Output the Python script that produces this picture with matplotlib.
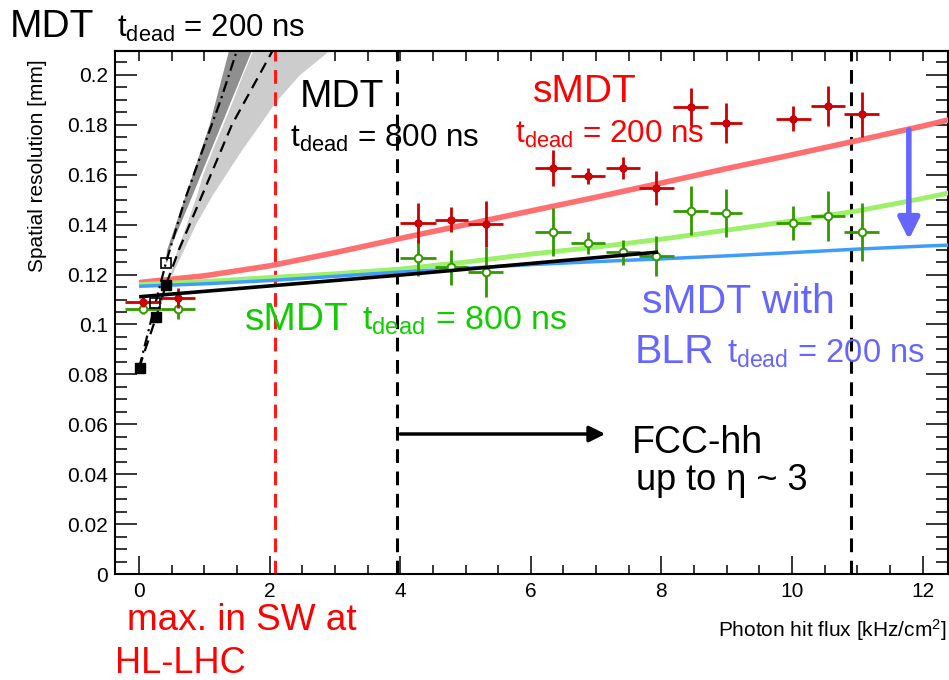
import matplotlib
matplotlib.use("Agg")
import matplotlib.pyplot as plt
from matplotlib.ticker import MultipleLocator, FuncFormatter

plt.rcParams['font.family'] = ['Liberation Sans', 'DejaVu Sans']
plt.rcParams['mathtext.fontset'] = 'custom'
plt.rcParams['mathtext.rm'] = 'Liberation Sans'
plt.rcParams['mathtext.it'] = 'Liberation Sans'

# ---------------- data ----------------
# sMDT, t_dead = 200 ns (red, filled circles)
red_x = [0.06, 0.60, 4.27, 4.78, 5.31, 6.34, 6.88, 7.41, 7.92, 8.45, 8.99, 10.02, 10.55, 11.07]
red_y = [0.1090, 0.1106, 0.1407, 0.1419, 0.1403, 0.1627, 0.1595, 0.1627, 0.1547, 0.1872, 0.1808, 0.1824, 0.1876, 0.1843]
red_yerr = [0.002, 0.004, 0.0080, 0.0050, 0.0093, 0.0073, 0.0033, 0.0043, 0.0070, 0.0077, 0.0079, 0.0050, 0.0080, 0.0090]
red_xerr = [0.27, 0.26, 0.27, 0.25, 0.27, 0.27, 0.26, 0.26, 0.27, 0.27, 0.25, 0.27, 0.26, 0.27]

# sMDT, t_dead = 800 ns (green, open circles)
grn_x = [0.06, 0.60, 4.27, 4.78, 5.31, 6.34, 6.88, 7.41, 7.92, 8.45, 8.99, 10.02, 10.55, 11.07]
grn_y = [0.1062, 0.1062, 0.1267, 0.1230, 0.1210, 0.1370, 0.1327, 0.1290, 0.1275, 0.1455, 0.1447, 0.1407, 0.1435, 0.1370]
grn_yerr = [0.002, 0.004, 0.0073, 0.0070, 0.0100, 0.0097, 0.0045, 0.0050, 0.0080, 0.0098, 0.0097, 0.0067, 0.0100, 0.0115]
grn_xerr = [0.27, 0.26, 0.27, 0.25, 0.27, 0.27, 0.26, 0.26, 0.27, 0.27, 0.25, 0.27, 0.26, 0.27]

# MDT measurements (black squares)
mdt_full_x = [0.02, 0.26, 0.41]
mdt_full_y = [0.0826, 0.1030, 0.1158]
mdt_open_x = [0.25, 0.41]
mdt_open_y = [0.1086, 0.1247]

# MDT curves
mdt200_x = [0.0, 0.25, 0.41, 0.70, 1.00, 1.25, 1.50]
mdt200_y = [0.0826, 0.1086, 0.1247, 0.1500, 0.1720, 0.1900, 0.2100]
mdt800_x = [0.0, 0.26, 0.41, 0.61, 1.00, 1.42, 2.05]
mdt800_y = [0.0826, 0.1030, 0.1158, 0.1300, 0.1540, 0.1800, 0.2100]

# uncertainty bands (given as x-range at each resolution value)
band200_y = [0.125, 0.130, 0.150, 0.180, 0.210]
band200_xlo = [0.40, 0.42, 0.68, 1.07, 1.37]
band200_xhi = [0.42, 0.46, 0.78, 1.25, 1.72]
band800_y = [0.120, 0.130, 0.140, 0.152, 0.160, 0.170, 0.180, 0.189, 0.200, 0.2096]
band800_xlo = [0.47, 0.58, 0.72, 0.88, 0.97, 1.12, 1.28, 1.42, 1.58, 1.74]
band800_xhi = [0.50, 0.68, 0.86, 1.12, 1.32, 1.57, 1.84, 2.08, 2.45, 2.90]

# parametrisation curves
curve_x = [0, 1, 2, 3, 4, 5, 6, 7, 8, 9, 10, 11, 12, 12.4]
curve_red = [0.1168, 0.1195, 0.1235, 0.1288, 0.1345, 0.1400, 0.1455, 0.1510, 0.1567, 0.1625, 0.1680, 0.1737, 0.1795, 0.1820]
curve_grn = [0.1160, 0.1172, 0.1188, 0.1203, 0.1222, 0.1250, 0.1282, 0.1310, 0.1342, 0.1378, 0.1415, 0.1455, 0.1505, 0.1527]
curve_blu = [0.1153, 0.1163, 0.1176, 0.1193, 0.1210, 0.1225, 0.1240, 0.1252, 0.1263, 0.1275, 0.1288, 0.1302, 0.1314, 0.1318]
mdtfit_x = [0.0, 4.0, 7.95]
mdtfit_y = [0.1111, 0.1198, 0.1290]

vline_red = 2.08
vline_blk = [3.95, 10.9]

# ---------------- figure ----------------
W, H = 949, 680
fig = plt.figure(figsize=(W / 100, H / 100), dpi=100)
L, R, T, B = 115, 948, 51, 574
ax = fig.add_axes([L / W, 1 - B / H, (R - L) / W, (B - T) / H])
ax.set_xlim(-0.37, 12.39)
ax.set_ylim(0, 0.2096)

# bands
ax.fill_betweenx(band800_y, band800_xlo, band800_xhi, color='#cccccc', lw=0, zorder=1)
ax.fill_betweenx(band200_y, band200_xlo, band200_xhi, color='#8f8f8f', lw=0, zorder=1)

# vertical lines
ax.axvline(vline_red, color='#ff1a1a', lw=2.2, ls=(0, (4.5, 2.8)), zorder=2)
for xv in vline_blk:
    ax.axvline(xv, color='black', lw=2.2, ls=(0, (4.5, 2.8)), zorder=2)

# curves
ax.plot(curve_x, curve_red, color='#ff6f6f', lw=4, zorder=3, solid_capstyle='butt')
ax.plot(curve_x, curve_grn, color='#9cf06a', lw=3.5, zorder=3, solid_capstyle='butt')
ax.plot(curve_x, curve_blu, color='#3f9cff', lw=2.5, zorder=3, solid_capstyle='butt')

# MDT curves
ax.plot(mdt200_x, mdt200_y, color='black', lw=1.6, ls=(0, (5, 2, 1, 2)), zorder=4)
ax.plot(mdt800_x, mdt800_y, color='black', lw=1.6, ls=(0, (5, 3)), zorder=4)

# data
ax.errorbar(grn_x, grn_y, yerr=grn_yerr, xerr=grn_xerr, fmt='o', color='#339900',
            mfc='white', mec='#339900', ms=5.5, mew=1.4, elinewidth=2, capsize=0, zorder=5)
ax.errorbar(red_x, red_y, yerr=red_yerr, xerr=red_xerr, fmt='o', color='#cc0000',
            ms=5, elinewidth=2, capsize=0, zorder=6)

ax.plot(mdtfit_x, mdtfit_y, color='black', lw=2.6, zorder=7, solid_capstyle='butt')
ax.plot(mdt_full_x, mdt_full_y, 's', color='black', ms=6.5, zorder=8)
ax.plot(mdt_open_x, mdt_open_y, 's', mfc='none', mec='black', ms=6.5, mew=1.2, zorder=8)

# arrows
ax.annotate('', xy=(7.14, 0.0561), xytext=(4.0, 0.0561),
            arrowprops=dict(arrowstyle='-|>', lw=2.5, color='black', mutation_scale=24,
                            shrinkA=0, shrinkB=0), zorder=9)
ax.annotate('', xy=(11.79, 0.1340), xytext=(11.79, 0.1780),
            arrowprops=dict(arrowstyle='-|>', lw=4, color='#6666ff', mutation_scale=32,
                            shrinkA=0, shrinkB=0), zorder=9)

# axes styling
for s in ax.spines.values():
    s.set_linewidth(1.5)
ax.xaxis.set_major_locator(MultipleLocator(2))
ax.xaxis.set_minor_locator(MultipleLocator(0.5))
ax.yaxis.set_major_locator(MultipleLocator(0.02))
ax.yaxis.set_minor_locator(MultipleLocator(0.005))
ax.xaxis.set_major_formatter(FuncFormatter(lambda v, p: f'{v:g}'))
ax.yaxis.set_major_formatter(FuncFormatter(lambda v, p: f'{round(v, 3):g}'))
ax.tick_params(axis='x', which='major', direction='in', length=13, width=1.1, labelsize=15, pad=6, top=False)
ax.tick_params(axis='x', which='minor', direction='in', length=6.5, width=1.1, top=False)
ax.tick_params(axis='y', which='major', direction='in', length=16, width=1.1, labelsize=15, pad=5, right=True)
ax.tick_params(axis='y', which='minor', direction='in', length=8.5, width=1.1, right=True)
sec = ax.secondary_xaxis('top')
sec.xaxis.set_major_locator(MultipleLocator(0.5))
sec.tick_params(axis='x', which='major', direction='in', length=7, width=1.1, labeltop=False)
sec.spines['top'].set_linewidth(1.5)

fig.text(38 / W, 1 - 166 / H, 'Spatial resolution [mm]', rotation=90, ha='center', va='center', fontsize=15)
fig.text(947 / W, 1 - 637 / H, r'Photon hit flux [kHz/cm$^{2}$]', ha='right', va='baseline', fontsize=15)

def ftext(x, y, s, size, color='black'):
    fig.text(x / W, 1 - y / H, s, ha='left', va='baseline', fontsize=size, color=color)

TD = r'$\mathregular{t_{dead}}$'
ftext(10, 37, 'MDT', 28)
ftext(117, 37, TD + ' = 200 ns', 22.4)
ftext(300, 107, 'MDT', 28)
ftext(290, 147, TD + ' = 800 ns', 22.6)
ftext(533, 102, 'sMDT', 28, '#ff0000')
ftext(515, 143, TD + ' = 200 ns', 22.6, '#ff0000')
ftext(245, 330, 'sMDT', 28, '#11cc00')
ftext(362, 330, TD + ' = 800 ns', 24.5, '#11cc00')
ftext(642, 313, 'sMDT with', 29.5, '#6666ff')
ftext(635, 363, 'BLR', 29.5, '#6666ff')
ftext(727, 363, TD + ' = 200 ns', 23.6, '#6666ff')
ftext(632, 453, 'FCC-hh', 27)
ftext(636, 490, 'up to η ~ 3', 26)
ftext(127, 630, 'max. in SW at', 26.6, '#ff0000')
ftext(115, 673, 'HL-LHC', 26, '#ff0000')

fig.savefig('out.png', dpi=100)
